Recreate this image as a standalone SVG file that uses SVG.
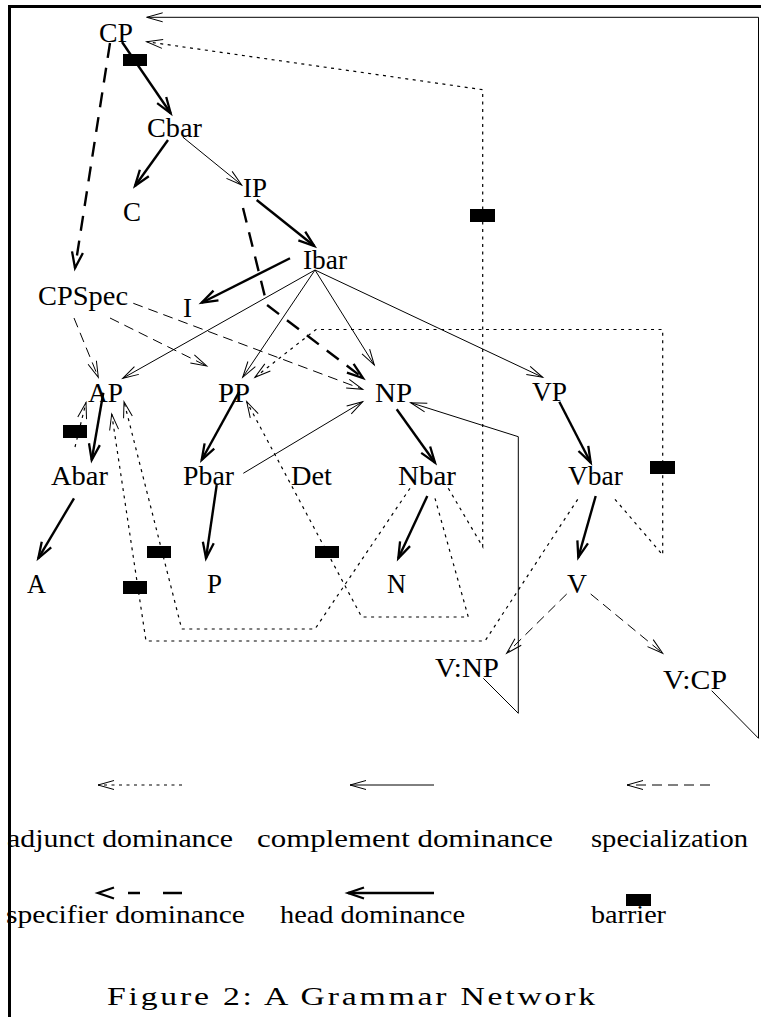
<svg xmlns="http://www.w3.org/2000/svg" width="761" height="1017" viewBox="0 0 761 1017">
<style>
  text { font-family: "Liberation Serif", "Times New Roman", serif; fill: #000; }
  .n { font-size: 27px; }
  .lg { font-size: 26px; }
  .title { font-size: 25px; }
  .head { stroke: #000; stroke-width: 2.4; fill: none; marker-end: url(#ah); }
  .spec { stroke: #000; stroke-width: 2.4; fill: none; stroke-dasharray: 15 10; marker-end: url(#ah); }
  .comp { stroke: #000; stroke-width: 1; fill: none; marker-end: url(#at); }
  .sp { stroke: #000; stroke-width: 1; fill: none; stroke-dasharray: 10 6; marker-end: url(#at); }
  .adj { stroke: #000; stroke-width: 1.2; fill: none; stroke-dasharray: 3 4.5; marker-end: url(#at); }
  .bar { fill: #000; }
  .frame { stroke: #000; stroke-width: 3; fill: none; }
</style>
<defs>
  <marker id="ah" markerUnits="userSpaceOnUse" markerWidth="20" markerHeight="14" refX="0" refY="0" orient="auto" overflow="visible">
    <path d="M-16,-5.5 L0,0 L-16,5.5" fill="none" stroke="#000" stroke-width="2.3"/>
  </marker>
  <marker id="at" markerUnits="userSpaceOnUse" markerWidth="20" markerHeight="12" refX="0" refY="0" orient="auto" overflow="visible">
    <path d="M-16,-4.5 L0,0 L-16,4.5" fill="none" stroke="#000" stroke-width="1"/>
  </marker>
</defs>

<g id="frame">
  <path class="frame" d="M8,6.5 H761"/>
  <path class="frame" d="M9.5,5 V1017"/>
</g>

<g id="connectors">
  <!-- head dominance -->
  <path class="head" d="M122,42 L170.7,113.3"/>
  <path class="head" d="M168,140 L135,186"/>
  <path class="head" d="M256.7,200 L314.3,246"/>
  <path class="head" d="M290,258.3 L201.7,302.7"/>
  <path class="head" d="M103.3,392.7 L91.7,460"/>
  <path class="head" d="M74,498.3 L38.3,558.3"/>
  <path class="head" d="M239.3,391.7 L201.7,460"/>
  <path class="head" d="M216.7,485 L206,558.3"/>
  <path class="head" d="M396.7,409.3 L435,462.7"/>
  <path class="head" d="M427.3,496 L398.3,558.3"/>
  <path class="head" d="M559.3,401.7 L590.7,462.7"/>
  <path class="head" d="M595.7,496 L578.3,557.3"/>
  <!-- specifier dominance -->
  <path class="spec" d="M110,43 L75,268"/>
  <path class="spec" d="M243,208 L267,305 L363,378"/>
  <!-- complement dominance -->
  <path class="comp" d="M182.7,137 L241.7,185"/>
  <path class="comp" d="M315,270 L122.7,378.3"/>
  <path class="comp" d="M315,270 L242.7,377.3"/>
  <path class="comp" d="M315,270 L374.3,365"/>
  <path class="comp" d="M315,270 L542.7,377.3"/>
  <path class="comp" d="M243.3,473.3 L362.7,401.7"/>
  <path class="comp" d="M483.3,678.3 L518.3,713.3 L518.3,436.7 L410.7,402.7"/>
  <path class="comp" d="M711.7,690.7 L758.5,738.3 L758.5,17.3 L146.7,17.3"/>
  <!-- specialization -->
  <path class="sp" d="M74,318 L98.3,377.3"/>
  <path class="sp" d="M110,318 L206.7,366"/>
  <path class="sp" d="M133.3,303.3 L362.7,389.3"/>
  <path class="sp" d="M566.7,594 L506.7,653.3"/>
  <path class="sp" d="M590.7,594 L662.7,653.3"/>
  <!-- adjunct dominance -->
  <path class="adj" d="M448.3,488.3 L482.7,546.7 L482.7,89.7 L146.7,41.7"/>
  <path class="adj" d="M615,499.3 L662.7,555 L662.7,329.5 L316,329.5 L255,377.3"/>
  <path class="adj" d="M410,488.3 L315,629 L181.7,629 L124,401.7"/>
  <path class="adj" d="M577.7,499.3 L485,641 L146,641 L111.7,414"/>
  <path class="adj" d="M435,498.3 L468.3,617 L361.7,617 L246.7,401.7"/>
  <path class="adj" d="M75,447 L86,402.5"/>
  <!-- barriers -->
  <rect class="bar" x="123" y="54" width="24" height="12"/>
  <rect class="bar" x="470" y="209" width="25" height="13"/>
  <rect class="bar" x="63" y="425" width="24" height="13"/>
  <rect class="bar" x="147" y="546" width="24" height="12"/>
  <rect class="bar" x="315" y="546" width="24" height="12"/>
  <rect class="bar" x="123" y="581" width="24" height="13"/>
  <rect class="bar" x="650" y="461" width="25" height="13"/>
</g>

<g id="CP"><text class="n" x="99" y="42" textLength="34" lengthAdjust="spacingAndGlyphs">CP</text></g>
<g id="Cbar"><text class="n" x="147" y="137" textLength="55" lengthAdjust="spacingAndGlyphs">Cbar</text></g>
<g id="C"><text class="n" x="123" y="221" textLength="18" lengthAdjust="spacingAndGlyphs">C</text></g>
<g id="IP"><text class="n" x="243" y="197" textLength="24" lengthAdjust="spacingAndGlyphs">IP</text></g>
<g id="Ibar"><text class="n" x="303" y="269" textLength="44" lengthAdjust="spacingAndGlyphs">Ibar</text></g>
<g id="CPSpec"><text class="n" x="38" y="305" textLength="90" lengthAdjust="spacingAndGlyphs">CPSpec</text></g>
<g id="I"><text class="n" x="183" y="317" textLength="9" lengthAdjust="spacingAndGlyphs">I</text></g>
<g id="AP"><text class="n" x="88" y="402" textLength="35" lengthAdjust="spacingAndGlyphs">AP</text></g>
<g id="PP"><text class="n" x="218" y="402" textLength="32" lengthAdjust="spacingAndGlyphs">PP</text></g>
<g id="NP"><text class="n" x="375" y="402" textLength="37" lengthAdjust="spacingAndGlyphs">NP</text></g>
<g id="VP"><text class="n" x="532" y="401" textLength="35" lengthAdjust="spacingAndGlyphs">VP</text></g>
<g id="Abar"><text class="n" x="51" y="485" textLength="57" lengthAdjust="spacingAndGlyphs">Abar</text></g>
<g id="Pbar"><text class="n" x="183" y="485" textLength="51" lengthAdjust="spacingAndGlyphs">Pbar</text></g>
<g id="Det"><text class="n" x="291" y="485" textLength="41" lengthAdjust="spacingAndGlyphs">Det</text></g>
<g id="Nbar"><text class="n" x="398" y="485" textLength="58" lengthAdjust="spacingAndGlyphs">Nbar</text></g>
<g id="Vbar"><text class="n" x="568" y="485" textLength="55" lengthAdjust="spacingAndGlyphs">Vbar</text></g>
<g id="A"><text class="n" x="27" y="593" textLength="19" lengthAdjust="spacingAndGlyphs">A</text></g>
<g id="P"><text class="n" x="207" y="593" textLength="15" lengthAdjust="spacingAndGlyphs">P</text></g>
<g id="N"><text class="n" x="387" y="593" textLength="19" lengthAdjust="spacingAndGlyphs">N</text></g>
<g id="V"><text class="n" x="567" y="593" textLength="20" lengthAdjust="spacingAndGlyphs">V</text></g>
<g id="VNP"><text class="n" x="435" y="677" textLength="64" lengthAdjust="spacingAndGlyphs">V:NP</text></g>
<g id="VCP"><text class="n" x="663" y="689" textLength="64" lengthAdjust="spacingAndGlyphs">V:CP</text></g>

<g id="legend">
  <path class="adj" d="M182,785 L98,785"/>
  <path class="comp" d="M434,785 L350,785"/>
  <path class="sp" d="M710,785 L627,785"/>
  <path class="spec" style="stroke-dasharray: 19 23 12 100" d="M182,893 L98,893"/>
  <path class="head" d="M434,893 L348,893"/>
  <rect class="bar" x="626" y="894" width="25" height="12"/>
  <text class="lg" x="7" y="847" textLength="226" lengthAdjust="spacingAndGlyphs">adjunct dominance</text>
  <text class="lg" x="257" y="847" textLength="296" lengthAdjust="spacingAndGlyphs">complement dominance</text>
  <text class="lg" x="591" y="847" textLength="157" lengthAdjust="spacingAndGlyphs">specialization</text>
  <text class="lg" x="6" y="923" textLength="239" lengthAdjust="spacingAndGlyphs">specifier dominance</text>
  <text class="lg" x="280" y="923" textLength="185" lengthAdjust="spacingAndGlyphs">head dominance</text>
  <text class="lg" x="591" y="923" textLength="75" lengthAdjust="spacingAndGlyphs">barrier</text>
</g>

<g id="caption" transform="scale(1.35,1)">
  <text class="title" x="79.3" y="1005" textLength="361.5" lengthAdjust="spacing">Figure 2: A Grammar Network</text>
</g>
</svg>
